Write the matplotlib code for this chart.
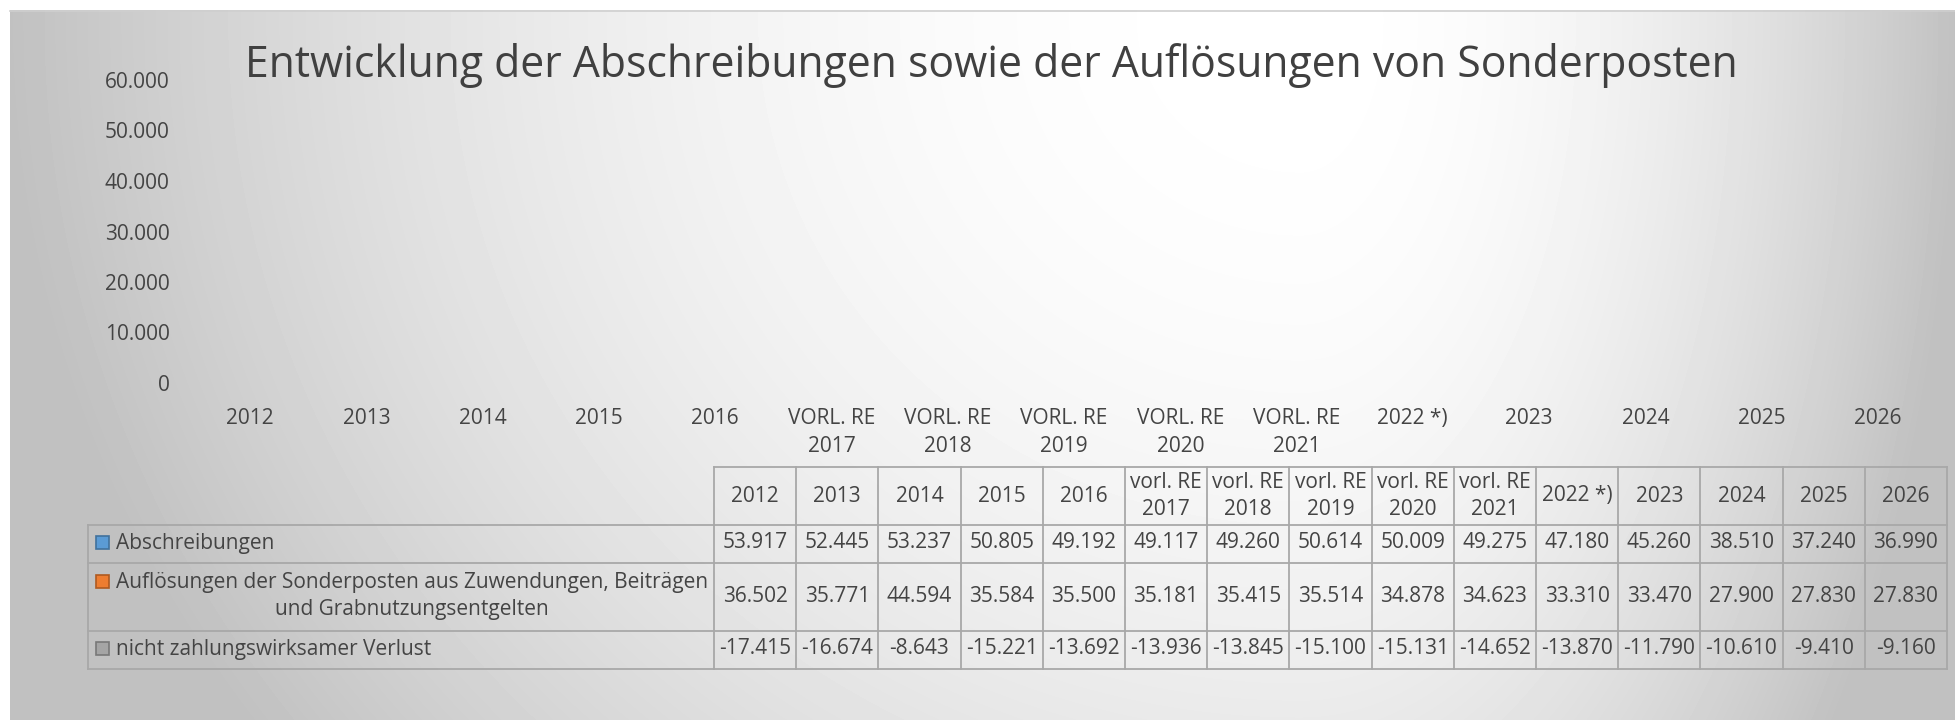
import numpy as np
import matplotlib
matplotlib.use("Agg")
import matplotlib.pyplot as plt
from matplotlib.patches import Rectangle

plt.rcParams['font.family'] = ['Open Sans', 'DejaVu Sans']

title = "Entwicklung der Abschreibungen sowie der Auflösungen von Sonderposten"
categories = ['2012', '2013', '2014', '2015', '2016',
              'vorl. RE\n2017', 'vorl. RE\n2018', 'vorl. RE\n2019', 'vorl. RE\n2020', 'vorl. RE\n2021',
              '2022 *)', '2023', '2024', '2025', '2026']
series_names = ['Abschreibungen',
                'Auflösungen der Sonderposten aus Zuwendungen, Beiträgen\nund Grabnutzungsentgelten',
                'nicht zahlungswirksamer Verlust']
abschreibungen = [53917, 52445, 53237, 50805, 49192, 49117, 49260, 50614, 50009, 49275,
                  47180, 45260, 38510, 37240, 36990]
aufloesungen = [36502, 35771, 44594, 35584, 35500, 35181, 35415, 35514, 34878, 34623,
                33310, 33470, 27900, 27830, 27830]
verlust = [-17415, -16674, -8643, -15221, -13692, -13936, -13845, -15100, -15131, -14652,
           -13870, -11790, -10610, -9410, -9160]
yticks = [0, 10000, 20000, 30000, 40000, 50000, 60000]

fill_colors = ['#5B9BD5', '#ED7D31', '#A5A5A5']
edge_colors = ['#41719C', '#AE5A21', '#787878']
txt = '#444444'
grid_c = '#a8a8a8'


def de(v):
    return f"{v:,}".replace(',', '.')


W, H = 1955, 720
fig = plt.figure(figsize=(W / 100, H / 100), dpi=100)
fig.patch.set_facecolor('white')

# background gradient (pixel coordinates)
bg = fig.add_axes([0, 0, 1, 1], zorder=-2)
bg.set_xlim(0, W)
bg.set_ylim(H, 0)
bg.axis('off')
xs = np.arange(10, W)
ys = np.arange(10, H)
X, Y = np.meshgrid(xs, ys)
cx, cy = 1300, 20
dx = np.where(X < cx, (X - cx) / 1290, (X - cx) / 655)
dy = (Y - cy) / 1200
d2 = np.clip(dx ** 2 + dy ** 2, 0, 1)
shade = (255 - 62 * d2) / 255
bg.imshow(shade, cmap='gray', vmin=0, vmax=1, extent=(10, W, H, 10), aspect='auto',
          interpolation='bilinear')
bg.plot([10, W], [10.5, 10.5], color='#cfcfcf', lw=1.2)

# plot area (no visible marks, just the axes)
ax = fig.add_axes([192 / W, 1 - 383 / H, 1744 / W, 303 / H])
ax.set_facecolor('none')
n = len(categories)
x = np.arange(n)
ax.set_xlim(-0.5, n - 0.5)
ax.set_ylim(0, 60000)
ax.set_yticks(yticks)
ax.set_yticklabels([de(v) for v in yticks], fontsize=15, color=txt)
ax.set_xticks(x)
ax.set_xticklabels([c.upper() for c in categories], fontsize=15, color=txt, linespacing=1.45,
                   va='top')
ax.tick_params(axis='both', length=0)
ax.tick_params(axis='y', pad=16)
ax.tick_params(axis='x', pad=18)
for s in ax.spines.values():
    s.set_visible(False)

# data table drawn in pixel coordinates
tb = fig.add_axes([0, 0, 1, 1], zorder=2)
tb.set_xlim(0, W)
tb.set_ylim(H, 0)
tb.axis('off')
x_lab, x_dat, x_end = 88, 714, 1947
cw = (x_end - x_dat) / n
rows_y = [467, 525, 563, 631, 669]
lw = 1.3
tb.plot([x_dat, x_end], [rows_y[0]] * 2, color=grid_c, lw=lw)
for yy in rows_y[1:]:
    tb.plot([x_lab, x_end], [yy, yy], color=grid_c, lw=lw)
tb.plot([x_lab, x_lab], [rows_y[1], rows_y[-1]], color=grid_c, lw=lw)
for i in range(n + 1):
    xx = x_dat + i * cw
    tb.plot([xx, xx], [rows_y[0], rows_y[-1]], color=grid_c, lw=lw)

for i, c in enumerate(categories):
    tb.text(x_dat + (i + 0.5) * cw, (rows_y[0] + rows_y[1]) / 2, c, ha='center', va='center',
            fontsize=15, color=txt, linespacing=1.35)

for r, vals in enumerate([abschreibungen, aufloesungen, verlust]):
    yc = (rows_y[r + 1] + rows_y[r + 2]) / 2 - 1
    for i, v in enumerate(vals):
        tb.text(x_dat + (i + 0.5) * cw, yc, de(v), ha='center', va='center', fontsize=15, color=txt)
    name = series_names[r]
    first_y = yc if '\n' not in name else yc - 14
    tb.add_patch(Rectangle((96, first_y - 7), 13, 13, facecolor=fill_colors[r],
                           edgecolor=edge_colors[r], lw=1.2))
    tb.text(116, yc, name, ha='left', va='center', multialignment='center', fontsize=15,
            color=txt, linespacing=1.35)

fig.text(991 / W, 1 - 77 / H, title, ha='center', va='baseline', fontsize=30.8, color='#404040')

fig.savefig('out.png', dpi=100)
